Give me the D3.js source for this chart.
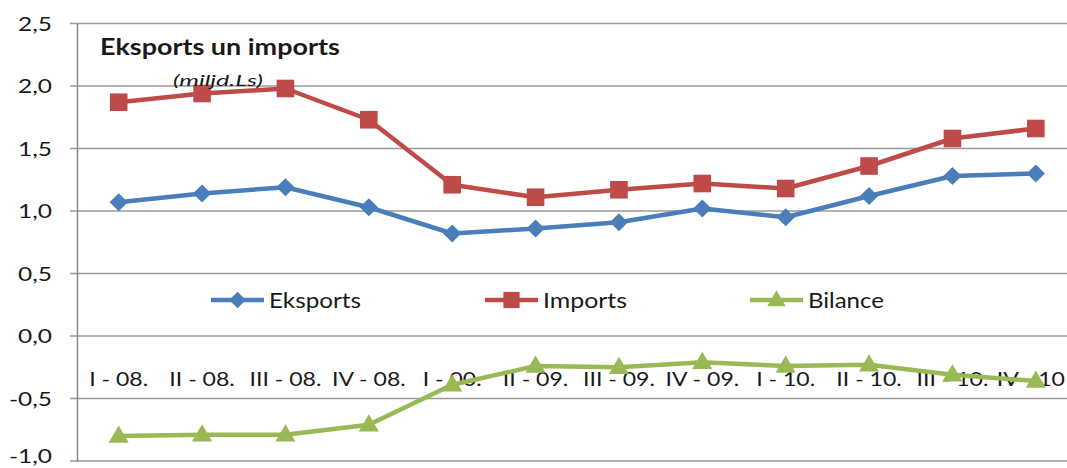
<!DOCTYPE html>
<html>
<head>
<meta charset="utf-8">
<script src="https://cdn.jsdelivr.net/npm/d3@7/dist/d3.min.js"></script>
<style>
html,body{margin:0;padding:0;background:#fff;}
svg{display:block;}
text{font-family:Lato,"Liberation Sans",sans-serif;fill:#1a1a1a;}
</style>
</head>
<body>
<svg id="chart" width="1067" height="468"></svg>
<script>
const categories = ["I - 08.", "II - 08.", "III - 08.", "IV - 08.", "I - 00.", "II - 09.", "III - 09.", "IV - 09.", "I - 10.", "II - 10.", "III - 10.", "IV - 10"];
const eksports = [1.07, 1.14, 1.19, 1.03, 0.82, 0.86, 0.91, 1.02, 0.95, 1.12, 1.28, 1.30];
const imports  = [1.87, 1.94, 1.98, 1.73, 1.21, 1.11, 1.17, 1.22, 1.18, 1.36, 1.58, 1.66];
const bilance  = [-0.80, -0.79, -0.79, -0.71, -0.39, -0.24, -0.25, -0.21, -0.24, -0.23, -0.31, -0.36];
const yTicks = [-1.0, -0.5, 0.0, 0.5, 1.0, 1.5, 2.0, 2.5];
const titleText = "Eksports un imports";
const subtitleText = "(miljd.Ls)";
const seriesNames = ["Eksports", "Imports", "Bilance"];

const series = [
  {name: seriesNames[0], values: eksports, color: "#4A7EBB", marker: "diamond"},
  {name: seriesNames[1], values: imports,  color: "#BE4B48", marker: "square"},
  {name: seriesNames[2], values: bilance,  color: "#98B954", marker: "triangle"}
];

const svg = d3.select("#chart");
const W = 1067, H = 468;
const pLeft = 77, pRight = 1077.5, pTop = 23.5, pBottom = 461;

const x = d3.scaleBand().domain(categories).range([pLeft, pRight]).padding(0);
const y = d3.scaleLinear().domain([-1, 2.5]).range([pBottom, pTop]);
const cx = d => x(d) + x.bandwidth() / 2;
const fmt = v => d3.format(".1f")(v).replace(".", ",").replace("\u2212", "-");

// marker shapes
function markerPath(kind, k) {
  if (kind === "square") return d3.symbol().type(d3.symbolSquare).size(310 * k * k)();
  if (kind === "diamond") return d3.symbol().type(d3.symbolSquare).size(165 * k * k)();
  return d3.symbol().type(d3.symbolTriangle).size(175 * k * k)();
}
function markerTransform(kind, px, py) {
  if (kind === "diamond") return `translate(${px},${py}) rotate(45)`;
  if (kind === "triangle") return `translate(${px},${py + 1})`;
  return `translate(${px},${py})`;
}

// gridlines
svg.append("g").selectAll("line").data(yTicks).join("line")
  .attr("x1", pLeft - 7).attr("x2", W)
  .attr("y1", d => y(d)).attr("y2", d => y(d))
  .attr("stroke", "#9a9a9a").attr("stroke-width", 1.5);

// y axis
const yAxis = d3.axisLeft(y).tickValues(yTicks).tickSize(0).tickPadding(0).tickFormat(fmt);
const ya = svg.append("g").attr("transform", `translate(${pLeft},0)`).call(yAxis);
ya.select(".domain").attr("stroke", "#8a8a8a").attr("stroke-width", 1.5);
ya.selectAll(".tick text").remove();
const tl = svg.append("g").selectAll("text").data(yTicks).join("text")
  .text(d => fmt(d))
  .attr("text-anchor", "end")
  .style("font-size", "19.5px");
{
  const ref = tl.filter(d => d === 2.5).node();
  const sx = 34 / ref.getComputedTextLength();
  tl.attr("transform", d => `translate(52,${Math.min(y(d) + 7, 463)}) scale(${sx},1)`);
}

// category labels
const cl = svg.append("g").selectAll("text").data(categories).join("text")
  .text(d => d)
  .attr("text-anchor", "middle")
  .style("font-size", "19.5px");
{
  const sx = 59 / cl.filter((d, i) => i === 0).node().getComputedTextLength();
  cl.attr("transform", function(d) {
    const half = this.getComputedTextLength() * sx / 2;
    const px = Math.min(cx(d), W - 2 - half);
    return `translate(${px},386) scale(${sx},1)`;
  });
}

// lines and markers
const line = d3.line().x((d, i) => cx(categories[i])).y(d => y(d));
series.forEach(s => {
  svg.append("path").datum(s.values)
    .attr("d", line).attr("fill", "none")
    .attr("stroke", s.color).attr("stroke-width", 4.5)
    .attr("stroke-linejoin", "round");
});
series.forEach(s => {
  svg.append("g").selectAll("path").data(s.values).join("path")
    .attr("d", markerPath(s.marker, 1))
    .attr("transform", (d, i) => markerTransform(s.marker, cx(categories[i]), y(d)))
    .attr("fill", s.color);
});

// legend
const legendX = [211, 485, 750];
const legendW = [92, 84, 76];
const legendY = 300;
series.forEach((s, i) => {
  const g = svg.append("g");
  g.append("line").attr("x1", legendX[i]).attr("x2", legendX[i] + 53)
    .attr("y1", legendY).attr("y2", legendY)
    .attr("stroke", s.color).attr("stroke-width", 4.5);
  g.append("path").attr("d", markerPath(s.marker, 0.92))
    .attr("transform", markerTransform(s.marker, legendX[i] + 26.5, legendY))
    .attr("fill", s.color);
  const t = g.append("text").text(s.name).style("font-size", "22px");
  const sx = legendW[i] / t.node().getComputedTextLength();
  t.attr("transform", `translate(${legendX[i] + 58},${legendY + 8}) scale(${sx},1)`);
});

// title
const title = svg.append("text").text(titleText)
  .style("font-size", "23.5px").style("font-weight", "bold");
{
  const sx = 240 / title.node().getComputedTextLength();
  title.attr("transform", `translate(100,55) scale(${sx},1)`);
}
const sub = svg.append("text").text(subtitleText)
  .style("font-size", "16px").style("font-style", "italic");
{
  const sx = 90 / sub.node().getComputedTextLength();
  sub.attr("transform", `translate(173,86) scale(${sx},1)`);
}
</script>
</body>
</html>
